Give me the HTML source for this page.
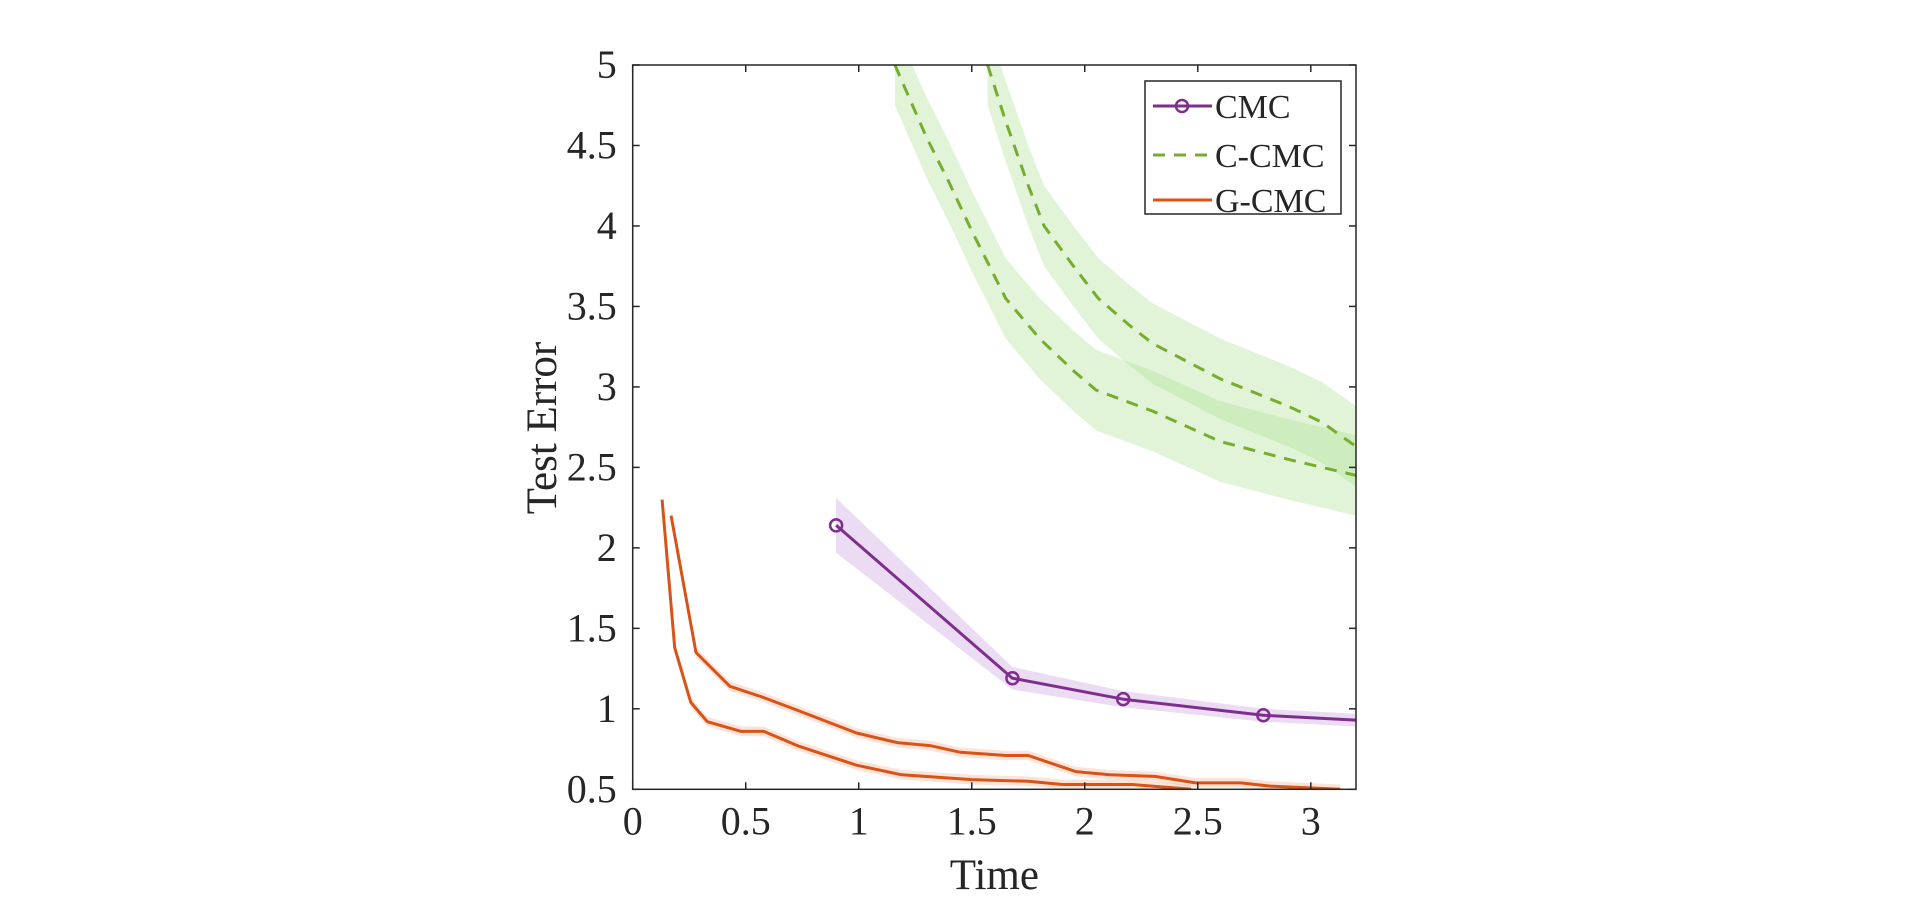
<!DOCTYPE html>
<html><head><meta charset="utf-8"><style>
html,body{margin:0;padding:0;background:#fff;width:1920px;height:899px;overflow:hidden}
svg text{font-family:"Liberation Serif",serif;fill:#262626}
</style></head><body>
<svg id="chart" width="1920" height="899">
<defs><clipPath id="clip"><rect x="632.7" y="65" width="723.3" height="724.3"/></clipPath></defs>
<g id="bands" clip-path="url(#clip)"></g>
<g id="lines" clip-path="url(#clip)"></g>
<g id="axes"></g>
</svg>
<script>
const cmcX=[0.9,1.68,2.17,2.79,3.2];
const cmcY=[2.14,1.19,1.06,0.96,0.93];
const cmcErr=[0.17,0.07,0.05,0.04,0.04];
const ccmc1X=[1.16,1.3,1.4,1.5,1.65,1.8,1.95,2.05,2.3,2.6,2.9,3.2];
const ccmc1Y=[5,4.55,4.27,3.97,3.55,3.3,3.1,2.98,2.85,2.66,2.55,2.45];
const ccmc2X=[1.57,1.65,1.75,1.82,1.95,2.06,2.2,2.3,2.6,2.9,3.05,3.2];
const ccmc2Y=[5,4.65,4.25,4.0,3.75,3.55,3.38,3.27,3.05,2.88,2.78,2.63];
const ccmcErr=0.25;
const gcmc1X=[0.13,0.186,0.257,0.33,0.48,0.58,0.73,0.99,1.19,1.5,1.75,1.9,2.21,2.47];
const gcmc1Y=[2.3,1.38,1.04,0.92,0.86,0.86,0.77,0.65,0.59,0.56,0.55,0.53,0.53,0.5];
const gcmc2X=[0.17,0.28,0.43,0.58,0.73,0.99,1.17,1.32,1.45,1.65,1.75,1.96,2.11,2.31,2.49,2.69,2.82,3.13];
const gcmc2Y=[2.2,1.35,1.14,1.07,0.99,0.85,0.79,0.77,0.73,0.71,0.71,0.61,0.59,0.58,0.54,0.54,0.52,0.5];
const gcmcErr=0.03;
const xTicks=[0,0.5,1,1.5,2,2.5,3];
const xTickLabels=["0","0.5","1","1.5","2","2.5","3"];
const yTicks=[0.5,1,1.5,2,2.5,3,3.5,4,4.5,5];
const yTickLabels=["0.5","1","1.5","2","2.5","3","3.5","4","4.5","5"];

const L=632.7,R=1356,T=65,B=789.3;
const X=v=>L+(v-0)/3.2*(R-L);
const Y=v=>B-(v-0.5)/4.5*(B-T);
const NS="http://www.w3.org/2000/svg";
function mk(tag,attrs,parent){const e=document.createElementNS(NS,tag);for(const k in attrs)e.setAttribute(k,attrs[k]);parent.appendChild(e);return e;}
const bands=document.getElementById('bands'),lines=document.getElementById('lines'),axes=document.getElementById('axes');
function pts(xs,ys,off){return xs.map((x,i)=>X(x).toFixed(1)+','+Y(ys[i]+(Array.isArray(off)?off[i]:off)).toFixed(1));}
function band(xs,ys,err,color,name){
  const neg=Array.isArray(err)?err.map(e=>-e):-err;
  const up=pts(xs,ys,err),dn=pts(xs,ys,neg).reverse();
  const p=mk('polygon',{points:up.concat(dn).join(' '),fill:color,'fill-opacity':0.35,stroke:'none'},bands);
  
  
}
function line(xs,ys,color,dash,name){
  const p=mk('polyline',{points:pts(xs,ys,0).join(' '),fill:'none',stroke:color,'stroke-width':3,'stroke-dasharray':dash||'none','stroke-linejoin':'round'},lines);
  
  
}
band(ccmc1X,ccmc1Y,ccmcErr,'#a9e08e','c-cmc-band-1');
band(ccmc2X,ccmc2Y,ccmcErr,'#a9e08e','c-cmc-band-2');
band(cmcX,cmcY,cmcErr,'#c79be0','cmc-band');
band(gcmc1X,gcmc1Y,gcmcErr,'#f5b08e','g-cmc-band-1');
band(gcmc2X,gcmc2Y,gcmcErr,'#f5b08e','g-cmc-band-2');
line(ccmc1X,ccmc1Y,'#77AC30','12 9','c-cmc-line-1');
line(ccmc2X,ccmc2Y,'#77AC30','12 9','c-cmc-line-2');
line(gcmc1X,gcmc1Y,'#D95319',null,'g-cmc-line-1');
line(gcmc2X,gcmc2Y,'#D95319',null,'g-cmc-line-2');
line(cmcX,cmcY,'#7E2F8E',null,'cmc-line');
cmcX.slice(0,4).forEach((x,i)=>{
  const c=mk('circle',{cx:X(x),cy:Y(cmcY[i]),r:6,fill:'none',stroke:'#7E2F8E','stroke-width':2.5},lines);
  
  
});
const box=mk('rect',{x:L,y:T,width:R-L,height:B-T,fill:'none',stroke:'#262626','stroke-width':1.5},axes);


xTicks.forEach((v,i)=>{
  mk('line',{x1:X(v),x2:X(v),y1:B,y2:B-7,stroke:'#262626','stroke-width':1.5},axes);
  mk('line',{x1:X(v),x2:X(v),y1:T,y2:T+7,stroke:'#262626','stroke-width':1.5},axes);
  const t=mk('text',{x:X(v),y:B+45,'text-anchor':'middle','font-size':40},axes);
  t.textContent=xTickLabels[i];
  
  
});
yTicks.forEach((v,i)=>{
  mk('line',{x1:L,x2:L+7,y1:Y(v),y2:Y(v),stroke:'#262626','stroke-width':1.5},axes);
  mk('line',{x1:R,x2:R-7,y1:Y(v),y2:Y(v),stroke:'#262626','stroke-width':1.5},axes);
  const t=mk('text',{x:L-16,y:Y(v)+13,'text-anchor':'end','font-size':40},axes);
  t.textContent=yTickLabels[i];
  
  
});
const xt=mk('text',{x:(L+R)/2,y:889,'text-anchor':'middle','font-size':43},axes);
xt.textContent='Time';


const yt=mk('text',{x:0,y:0,'text-anchor':'middle','font-size':43,transform:'translate(556,428) rotate(-90)'},axes);
yt.textContent='Test Error';


const lg=mk('g',{},axes);


mk('rect',{x:1145,y:81,width:196,height:133,fill:'#fff',stroke:'#262626','stroke-width':1.5},lg);
const items=[['CMC','#7E2F8E',null,true],['C-CMC','#77AC30','12 9',false],['G-CMC','#D95319',null,false]];
const ys=[106,155,200];
items.forEach((it,i)=>{
  const g=mk('g',{},lg);
  
  
  mk('line',{x1:1153,x2:1212,y1:ys[i],y2:ys[i],stroke:it[1],'stroke-width':3,'stroke-dasharray':it[2]||'none'},g);
  if(it[3]) mk('circle',{cx:1182,cy:ys[i],r:6,fill:'none',stroke:it[1],'stroke-width':2.5},g);
  const t=mk('text',{x:1215,y:ys[i]+12,'font-size':34},g);
  t.textContent=it[0];
});
</script>
</body></html>
